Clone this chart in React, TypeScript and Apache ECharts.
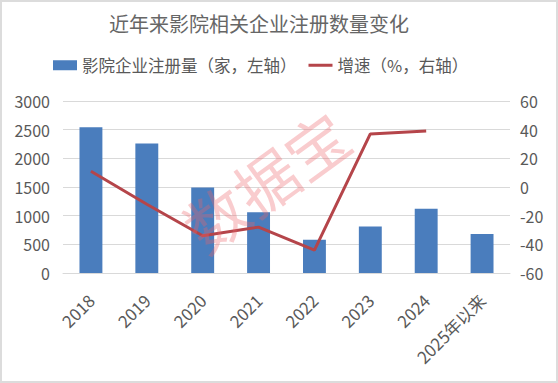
import React, { useEffect, useRef } from "react";
import * as echarts from "echarts";

const categories = ["2018", "2019", "2020", "2021", "2022", "2023", "2024", "2025年以来"];
const registrations = [2540, 2260, 1490, 1060, 580, 810, 1120, 680];
const growth: (number | null)[] = [11, -12, -34, -28, -44, 37, 39, null];
const leftTicks = { min: 0, max: 3000, interval: 500 };
const rightTicks = { min: -60, max: 60, interval: 20 };

const FONT = '"Microsoft YaHei", "Noto Sans CJK SC", sans-serif';
const TEXT = "#595959";
const BAR = "#4a7dbd";
const LINE = "#b5454a";

export default function App() {
  const ref = useRef<HTMLDivElement>(null);
  useEffect(() => {
    if (!ref.current) return;
    const chart = echarts.init(ref.current, undefined, { renderer: "svg" });
    chart.setOption({
      animation: false,
      backgroundColor: "#fff",
      textStyle: { fontFamily: FONT },
      title: {
        text: "近年来影院相关企业注册数量变化",
        left: 104,
        top: 8,
        textStyle: { fontSize: 20, fontWeight: "normal", color: "#666", fontFamily: FONT },
      },
      legend: {
        top: 52,
        left: 48,
        itemWidth: 24,
        itemHeight: 10,
        itemGap: 12,
        textStyle: { fontSize: 16.5, color: TEXT, fontFamily: FONT },
        data: [
          { name: "影院企业注册量（家，左轴）", icon: "rect", itemStyle: { color: BAR } },
          { name: "增速（%，右轴）", icon: "path://M0,0H24V3H0Z", itemStyle: { color: LINE } },
        ],
      },
      grid: { left: 63, right: 48, top: 101, bottom: 110, containLabel: false },
      xAxis: {
        type: "category",
        data: categories,
        axisTick: { show: false },
        axisLine: { lineStyle: { color: "#d9d9d9" } },
        axisLabel: { rotate: 45, interval: 0, fontSize: 17, color: TEXT, margin: 24, fontFamily: FONT },
      },
      yAxis: [
        {
          type: "value",
          ...leftTicks,
          axisLabel: { fontSize: 16, color: TEXT, margin: 13, fontFamily: FONT, formatter: (v: number) => String(v) },
          splitLine: { lineStyle: { color: "#d9d9d9" } },
          axisLine: { show: false },
          axisTick: { show: false },
        },
        {
          type: "value",
          ...rightTicks,
          axisLabel: { fontSize: 16, color: TEXT, margin: 10, fontFamily: FONT, formatter: (v: number) => String(v) },
          splitLine: { show: false },
          axisLine: { show: false },
          axisTick: { show: false },
        },
      ],
      series: [
        {
          name: "影院企业注册量（家，左轴）",
          type: "bar",
          data: registrations,
          barWidth: "41%",
          itemStyle: { color: BAR },
          yAxisIndex: 0,
        },
        {
          name: "增速（%，右轴）",
          type: "line",
          data: growth,
          yAxisIndex: 1,
          symbol: "none",
          lineStyle: { color: LINE, width: 3 },
          itemStyle: { color: LINE },
        },
      ],
      graphic: [
        {
          type: "text",
          x: 265,
          y: 180,
          rotation: (36 * Math.PI) / 180,
          style: {
            text: "数据宝",
            fontSize: 62,
            fontFamily: FONT,
            fill: "rgba(238, 100, 105, 0.33)",
            align: "center",
            verticalAlign: "middle",
          },
          z: 100,
        },
      ],
    });
    return () => chart.dispose();
  }, []);
  return (
    <>
      <div ref={ref} style={{ position: "fixed", left: 0, top: 0, width: 558, height: 383 }} />
      <div
        style={{
          position: "fixed",
          left: 0,
          top: 0,
          width: 558,
          height: 383,
          boxSizing: "border-box",
          border: "2px solid #dcdcdc",
          pointerEvents: "none",
        }}
      />
    </>
  );
}
